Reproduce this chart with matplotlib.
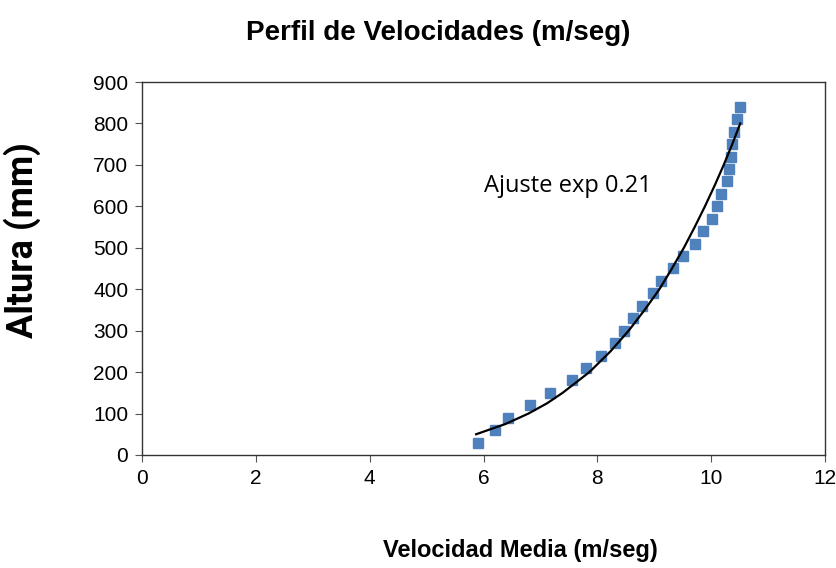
import matplotlib
matplotlib.use("Agg")
import matplotlib.pyplot as plt

# Measured profile
altura_mm = [30, 60, 90, 120, 150, 180, 210, 240, 270, 300, 330, 360, 390, 420,
             450, 480, 510, 540, 570, 600, 630, 660, 690, 720, 750, 780, 810, 840]
velocidad = [5.90, 6.20, 6.43, 6.82, 7.17, 7.56, 7.80, 8.07, 8.31, 8.47, 8.62, 8.78,
             8.98, 9.12, 9.33, 9.51, 9.72, 9.86, 10.02, 10.10, 10.18, 10.27, 10.31,
             10.35, 10.37, 10.40, 10.45, 10.51]

# Fitted curve
ajuste_h = [50, 75, 100, 125, 150, 200, 250, 300, 350, 400, 450, 500, 550, 600,
            650, 700, 750, 800]
ajuste_v = [5.87, 6.39, 6.79, 7.12, 7.39, 7.86, 8.23, 8.55, 8.83, 9.09, 9.31, 9.52,
            9.71, 9.89, 10.06, 10.22, 10.37, 10.51]

x_ticks = [0, 2, 4, 6, 8, 10, 12]
y_ticks = [0, 100, 200, 300, 400, 500, 600, 700, 800, 900]

fig = plt.figure(figsize=(8.37, 5.68), dpi=100)
ax = fig.add_axes([0.1697, 0.199, 0.8160, 0.6566])

ax.plot(velocidad, altura_mm, linestyle="none", marker="s", markersize=6.5,
        color="#4F81BD", zorder=2)
ax.plot(ajuste_v, ajuste_h, color="black", linewidth=1.6, zorder=3)

ax.set_xlim(0, 12)
ax.set_ylim(0, 900)
ax.set_xticks(x_ticks)
ax.set_yticks(y_ticks)
tkw = dict(fontfamily="Liberation Sans", fontweight="normal", fontsize=15)
ax.set_xticklabels([str(t) for t in x_ticks], **tkw)
ax.set_yticklabels([str(t) for t in y_ticks], **tkw)
ax.tick_params(direction="out", length=5, width=0.8, color="#555555", pad=5)
for s in ax.spines.values():
    s.set_color("#333333")
    s.set_linewidth(1.0)

ax.text(6.0, 650, "Ajuste exp 0.21", fontfamily="Open Sans", fontsize=17,
        ha="left", va="center")

fig.text(0.524, 0.942, "Perfil de Velocidades (m/seg)", fontfamily="Liberation Sans",
         fontweight="bold", fontsize=20, ha="center", va="center")
fig.text(0.622, 0.030, "Velocidad Media (m/seg)", fontfamily="Liberation Sans",
         fontweight="bold", fontsize=17, ha="center", va="center")
fig.text(0.027, 0.577, "Altura (mm)", fontfamily=["Roboto", "DejaVu Sans"],
         fontweight="bold", fontsize=26,
         ha="center", va="center", rotation=90)

fig.savefig("out.png", dpi=100)
